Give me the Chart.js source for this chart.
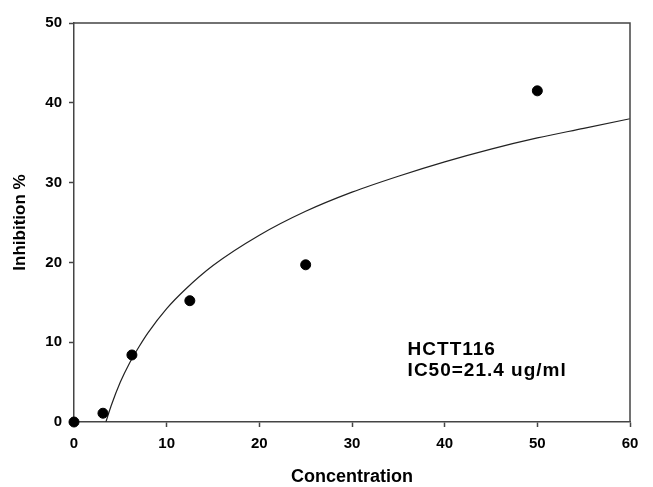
<!DOCTYPE html>
<html>
<head>
<meta charset="utf-8">
<script src="https://cdn.jsdelivr.net/npm/chart.js@4.4.1/dist/chart.umd.min.js"></script>
<style>
    body { margin: 0; background: #fff; }
    #wrap { width: 653px; height: 487px; }
</style>
</head>
<body>
<div id="wrap"><canvas id="ic50Chart"></canvas></div>
<script>
// measured points
const concentration = [0, 3.125, 6.25, 12.5, 25, 50];
const inhibition = [0, 1.1, 8.4, 15.2, 19.7, 41.5];

// fitted curve
const curveX = [3.44, 4, 5, 6, 7, 8, 10, 12, 15, 20, 25, 30, 35, 40, 45, 50, 55, 60];
const curveY = [0, 2.0, 5.0, 7.4, 9.4, 11.2, 14.2, 16.6, 19.6, 23.4, 26.4, 28.8, 30.8, 32.6, 34.2, 35.6, 36.8, 38.0];

const xTicks = [0, 10, 20, 30, 40, 50, 60];
const yTicks = [0, 10, 20, 30, 40, 50];

const noteLines = ['HCTT116', 'IC50=21.4 ug/ml'];

document.addEventListener('DOMContentLoaded', function () {

    const axisColor = '#444';
    const fontFamily = 'Arial, "Liberation Sans", sans-serif';

    // box around plot + the text note
    const framePlugin = {
        id: 'frame',
        afterDraw(chart) {
            const ctx = chart.ctx;
            const a = chart.chartArea;
            ctx.save();
            ctx.strokeStyle = axisColor;
            ctx.lineWidth = 1.5;
            ctx.beginPath();
            ctx.moveTo(a.left, a.top);
            ctx.lineTo(a.right, a.top);
            ctx.lineTo(a.right, a.bottom);
            ctx.stroke();

            const x = chart.scales.x.getPixelForValue(36);
            const y = chart.scales.y.getPixelForValue(8.4);
            ctx.fillStyle = '#000';
            ctx.font = 'bold 19px ' + fontFamily;
            ctx.letterSpacing = '1px';
            ctx.textBaseline = 'alphabetic';
            ctx.fillText(noteLines[0], x, y);
            ctx.fillText(noteLines[1], x, y + 21);
            ctx.restore();
        }
    };

    new Chart(document.getElementById('ic50Chart'), {
        type: 'scatter',
        data: {
            datasets: [
                {
                    label: 'Inhibition',
                    data: concentration.map((c, i) => ({ x: c, y: inhibition[i] })),
                    backgroundColor: '#000',
                    borderColor: '#000',
                    pointRadius: 5,
                    pointHoverRadius: 5,
                    clip: false
                },
                {
                    label: 'Fit',
                    data: curveX.map((c, i) => ({ x: c, y: curveY[i] })),
                    showLine: true,
                    borderColor: '#222',
                    borderWidth: 1.2,
                    pointRadius: 0,
                    cubicInterpolationMode: 'monotone'
                }
            ]
        },
        options: {
            responsive: true,
            maintainAspectRatio: false,
            animation: false,
            layout: { padding: { top: 23, right: 23, left: 0, bottom: 0 } },
            plugins: {
                legend: { display: false },
                tooltip: { enabled: false }
            },
            scales: {
                x: {
                    type: 'linear',
                    min: 0,
                    max: 60,
                    afterFit: function (scale) { scale.height = 65; },
                    afterBuildTicks: function (scale) {
                        scale.ticks = xTicks.map(v => ({ value: v }));
                    },
                    grid: {
                        drawOnChartArea: false,
                        drawTicks: true,
                        tickLength: 5,
                        tickWidth: 1.5,
                        tickColor: axisColor
                    },
                    border: { display: true, color: axisColor, width: 1.5 },
                    ticks: {
                        color: '#000',
                        padding: 8,
                        maxRotation: 0,
                        font: { family: fontFamily, size: 15, weight: 'bold' }
                    },
                    title: {
                        display: true,
                        text: 'Concentration',
                        color: '#000',
                        padding: { top: 0, bottom: 0 },
                        font: { family: fontFamily, size: 18, weight: 'bold', lineHeight: 1.1 }
                    }
                },
                y: {
                    min: 0,
                    max: 50,
                    afterFit: function (scale) { scale.width = 74; },
                    afterBuildTicks: function (scale) {
                        scale.ticks = yTicks.map(v => ({ value: v }));
                    },
                    grid: {
                        drawOnChartArea: false,
                        drawTicks: true,
                        tickLength: 5,
                        tickWidth: 1.5,
                        tickColor: axisColor
                    },
                    border: { display: true, color: axisColor, width: 1.5 },
                    ticks: {
                        color: '#000',
                        padding: 7,
                        font: { family: fontFamily, size: 15, weight: 'bold' }
                    },
                    title: {
                        display: true,
                        text: 'Inhibition %',
                        color: '#000',
                        padding: { top: 10, bottom: 0 },
                        font: { family: fontFamily, size: 17, weight: 'bold' }
                    }
                }
            }
        },
        plugins: [framePlugin]
    });
});
</script>
</body>
</html>
